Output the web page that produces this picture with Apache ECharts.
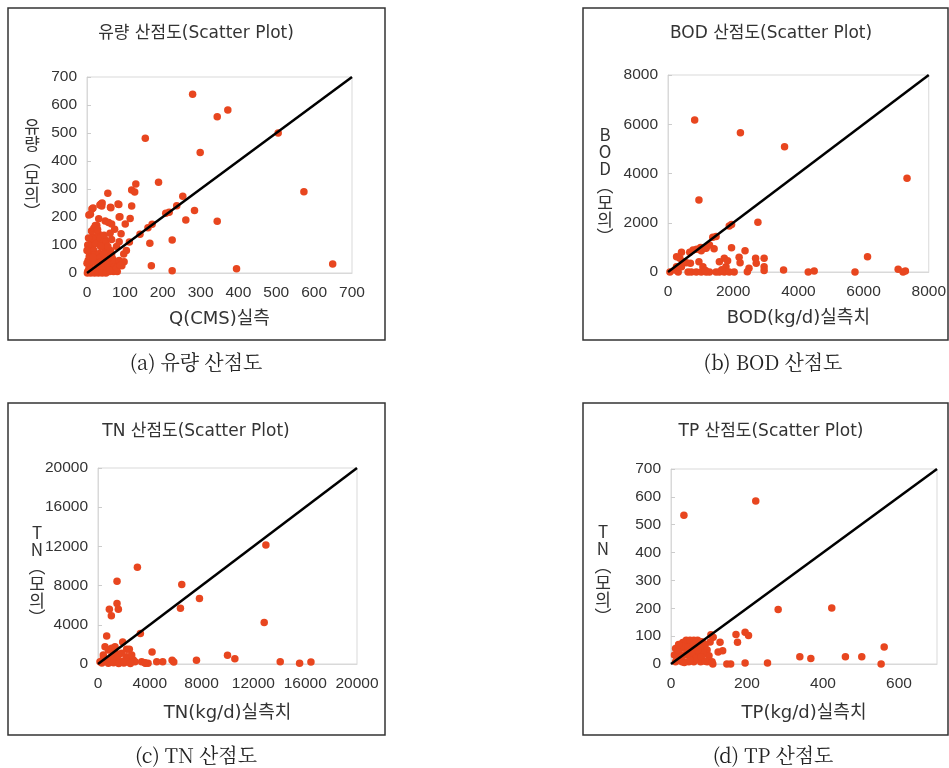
<!DOCTYPE html>
<html><head><meta charset="utf-8">
<script src="https://cdn.jsdelivr.net/npm/echarts@6/dist/echarts.min.js"></script>
<style>html,body{margin:0;padding:0;background:#fff}#c{width:949px;height:768px}</style>
</head><body><div id="c"></div>
<script>
// ---------- text ----------
const panelTitles = ['유량 산점도(Scatter Plot)', 'BOD 산점도(Scatter Plot)', 'TN 산점도(Scatter Plot)', 'TP 산점도(Scatter Plot)'];
const captions = ['(a) 유량 산점도', '(b) BOD 산점도', '(c) TN 산점도', '(d) TP 산점도'];
const xNames = ['Q(CMS)실측', 'BOD(kg/d)실측치', 'TN(kg/d)실측치', 'TP(kg/d)실측치'];
const yNames = ['유량(모의)', 'BOD(모의)', 'TN(모의)', 'TN(모의)'];

// ---------- tick labels ----------
const flowXTicks = [0, 100, 200, 300, 400, 500, 600, 700];
const flowYTicks = [0, 100, 200, 300, 400, 500, 600, 700];
const bodXTicks = [0, 2000, 4000, 6000, 8000];
const bodYTicks = [0, 2000, 4000, 6000, 8000];
const tnXTicks = [0, 4000, 8000, 12000, 16000, 20000];
const tnYTicks = [0, 4000, 8000, 12000, 16000, 20000];
const tpXTicks = [0, 200, 400, 600];
const tpYTicks = [0, 100, 200, 300, 400, 500, 600, 700];
const axisMax = [700, 8000, 20000, 700];

// ---------- data: [observed, simulated] ----------
const flowPoints = [
  [279,638],[344,558],[372,582],[154,481],[505,500],[299,430],[573,290],[649,32],[395,15],[225,8],
  [170,26],[344,185],[284,223],[261,189],[253,274],[225,118],[237,240],[217,217],[208,213],[189,324],
  [129,318],[118,296],[126,289],[118,239],[166,106],[172,174],[161,162],[140,138],[114,195],[112,111],
  [101,175],[85,200],[82,246],[85,112],[55,285],[37,246],[39,239],[62,235],[5,207],[13,229],
  [31,194],[48,186],[57,180],[65,175],[73,156],[61,142],[47,120],[104,80],[97,68],[98,40],
  [92,26],[80,5],[70,5],[16,232],[34,243],[40,250],[63,233],[84,245],[87,201],[26,170],
  [2,5],[5,15],[8,30],[3,45],[6,60],[10,75],[4,90],[8,100],[12,110],[15,95],
  [18,80],[20,65],[22,50],[25,35],[28,20],[30,8],[33,70],[35,55],[38,40],[40,25],
  [42,12],[45,90],[48,75],[50,60],[52,45],[55,30],[58,18],[60,5],[62,80],[65,65],
  [68,50],[70,35],[72,22],[75,10],[15,130],[20,120],[25,105],[30,140],[12,150],[35,125],
  [40,105],[45,135],[50,110],[55,95],[18,160],[22,170],[28,155],[10,15],[14,40],[16,55],
  [2,100],[4,125],[0,80],[0,35],[1,0],[10,0],[20,0],[30,0],[40,0],[50,0],
  [60,10],[78,18],[85,45],[88,28],[9,210],[65,120],[78,95],[90,140],[36,95],[44,68]
];
const bodPoints = [
  [818,6172],[2222,5658],[3576,5090],[7333,3804],[949,2924],[2758,2017],[1879,1868],[1950,1930],[1374,1408],[1475,1440],
  [1949,988],[2364,866],[1414,948],[1121,961],[1000,1000],[414,799],[667,799],[768,893],[879,920],[1020,866],
  [1172,961],[1273,1096],[263,622],[687,352],[949,420],[1727,555],[1828,460],[2182,596],[2212,379],[2687,555],
  [2949,555],[2949,217],[2707,352],[2485,149],[2434,14],[3545,81],[6121,623],[4303,0],[4485,41],[5737,0],
  [7061,108],[7212,0],[7283,41],[60,0],[313,0],[616,0],[717,0],[869,0],[1020,0],[1172,0],
  [1273,0],[1475,0],[1576,0],[1727,0],[1879,0],[2030,0],[414,217],[566,378],[1071,217],[1778,217],
  [1576,420],[212,81],[262,217],[465,420],[364,555],[2949,60],[1650,90],[1150,60]
];
const tnPoints = [
  [12964,12136],[12835,4237],[3041,9864],[1469,8441],[6469,8102],[7835,6678],[6366,5695],[1469,6169],[1572,5593],[876,5593],
  [1031,4915],[3273,3119],[670,2847],[1907,2237],[4175,1220],[10000,881],[10567,542],[7603,373],[5722,373],[5851,203],
  [5000,237],[4536,237],[3660,68],[3866,68],[14072,237],[15567,68],[16443,203],[412,918],[798,1429],[1055,1599],
  [1313,1769],[541,1769],[2214,1497],[2419,1497],[2214,750],[2471,578],[2728,408],[2600,918],[2857,238],[3372,238],
  [3629,136],[154,238],[412,578],[669,408],[927,238],[1055,748],[1184,408],[1441,340],[1699,238],[1956,300],
  [2214,238],[1570,918],[1827,1088],[1313,1259],[300,100],[800,80],[1200,120],[1600,60],[2000,90],[2500,50]
];
const tpPoints = [
  [34,534],[223,585],[282,196],[423,201],[561,61],[339,26],[368,20],[459,26],[502,26],[553,0],
  [254,4],[195,4],[195,114],[204,102],[171,106],[175,78],[129,78],[136,48],[124,43],[147,0],
  [157,0],[105,105],[111,96],[103,79],[110,0],[31,77],[46,77],[54,77],[63,77],[72,77],
  [83,77],[12,56],[25,56],[38,56],[56,56],[73,56],[86,56],[9,32],[22,32],[39,32],
  [52,32],[70,32],[83,32],[12,8],[29,8],[47,8],[60,8],[78,8],[95,8],[108,8],
  [40,85],[50,85],[60,85],[70,85],[80,80],[90,70],[95,50],[100,30],[30,65],[20,45],
  [15,25],[25,15],[35,5],[45,60],[55,40],[65,20],[75,60],[85,40],[60,70],[70,50],
  [80,25],[90,10],[50,15],[40,35],[30,30],[20,70]
];
const allPoints = [flowPoints, bodPoints, tnPoints, tpPoints];
const xTicks = [flowXTicks, bodXTicks, tnXTicks, tpXTicks];
const yTicks = [flowYTicks, bodYTicks, tnYTicks, tpYTicks];

// ---------- layout ----------
const L = [
  {frame:[8,8,377,332], grid:{left:87,top:77,width:265,height:196}, title:[196,34], yname:[32,169], cap:[196,362], xgap:37},
  {frame:[583,8,365,332], grid:{left:668,top:75,width:264,height:197}, title:[771,34], yname:[605,186], cap:[773,362], xgap:37},
  {frame:[8,403,377,332], grid:{left:98,top:468,width:259,height:196}, title:[196,432], yname:[37,575], cap:[196,755], xgap:40},
  {frame:[583,403,365,332], grid:{left:671,top:469,width:266,height:195}, title:[771,432], yname:[603,574], cap:[773,755], xgap:40}
];

const DOT = '#E8461F';
const TXT = '#333';
const SANS = "'DejaVu Sans', 'Noto Sans CJK KR', sans-serif";
const NUM = "'Liberation Sans', Arial, sans-serif";
const SERIF = "'Noto Serif CJK KR', 'Liberation Serif', 'Noto Sans CJK KR', serif";

const grids = [], xAxes = [], yAxes = [], series = [], graphics = [];
L.forEach((p, i) => {
  grids.push(Object.assign({show:true, borderColor:'#d9d9d9', borderWidth:1, backgroundColor:'transparent'}, p.grid));
  const xt = xTicks[i], yt = yTicks[i];
  xAxes.push({
    type:'value', gridIndex:i, min:xt[0], max:axisMax[i], interval:xt[1]-xt[0],
    name:xNames[i], nameLocation:'middle', nameGap:p.xgap,
    nameTextStyle:{fontFamily:SANS, fontSize:18, color:TXT},
    axisLine:{show:true, lineStyle:{color:'#d9d9d9'}},
    axisTick:{show:false}, splitLine:{show:false},
    axisLabel:{fontFamily:NUM, fontSize:15.5, color:TXT, margin:12,
      formatter: v => (xt.indexOf(v) >= 0 ? String(v) : '')}
  });
  yAxes.push({
    type:'value', gridIndex:i, min:yt[0], max:yt[yt.length-1], interval:yt[1]-yt[0],
    axisLine:{show:true, lineStyle:{color:'#d9d9d9'}},
    axisTick:{show:true, inside:true, length:4, lineStyle:{color:'#cccccc'}},
    splitLine:{show:false},
    axisLabel:{fontFamily:NUM, fontSize:15.5, color:TXT, margin:10, formatter: v => String(v)}
  });
  series.push({
    type:'scatter', xAxisIndex:i, yAxisIndex:i, data:allPoints[i],
    symbolSize:7.5, itemStyle:{color:DOT, opacity:1}, z:2
  });
  series.push({
    type:'line', xAxisIndex:i, yAxisIndex:i, data:[[0,0],[axisMax[i],axisMax[i]]],
    symbol:'none', lineStyle:{color:'#000', width:2.5}, z:3, silent:true
  });
  graphics.push({type:'rect', shape:{x:p.frame[0], y:p.frame[1], width:p.frame[2], height:p.frame[3]},
    style:{fill:'none', stroke:'#333', lineWidth:1.5}, z:1});
  graphics.push({type:'text', x:p.title[0], y:p.title[1],
    style:{text:panelTitles[i], font:'17px ' + SANS, fill:TXT, textAlign:'center', textVerticalAlign:'middle'}});
  const vert = yNames[i].replace('(', '︵').replace(')', '︶').split('').join('\n');
  graphics.push({type:'text', x:p.yname[0], y:p.yname[1],
    style:{text:vert, font:"17px 'Noto Sans CJK KR', sans-serif", lineHeight:17, fill:TXT, textAlign:'center', textVerticalAlign:'middle'}});
  graphics.push({type:'text', x:p.cap[0], y:p.cap[1],
    style:{text:captions[i], font:'20px ' + SERIF, fill:'#222', textAlign:'center', textVerticalAlign:'middle'}});
});

const chart = echarts.init(document.getElementById('c'), null, {renderer:'canvas'});
chart.setOption({
  animation:false,
  backgroundColor:'#fff',
  grid:grids, xAxis:xAxes, yAxis:yAxes, series:series,
  graphic:{elements:graphics}
});
</script></body></html>
